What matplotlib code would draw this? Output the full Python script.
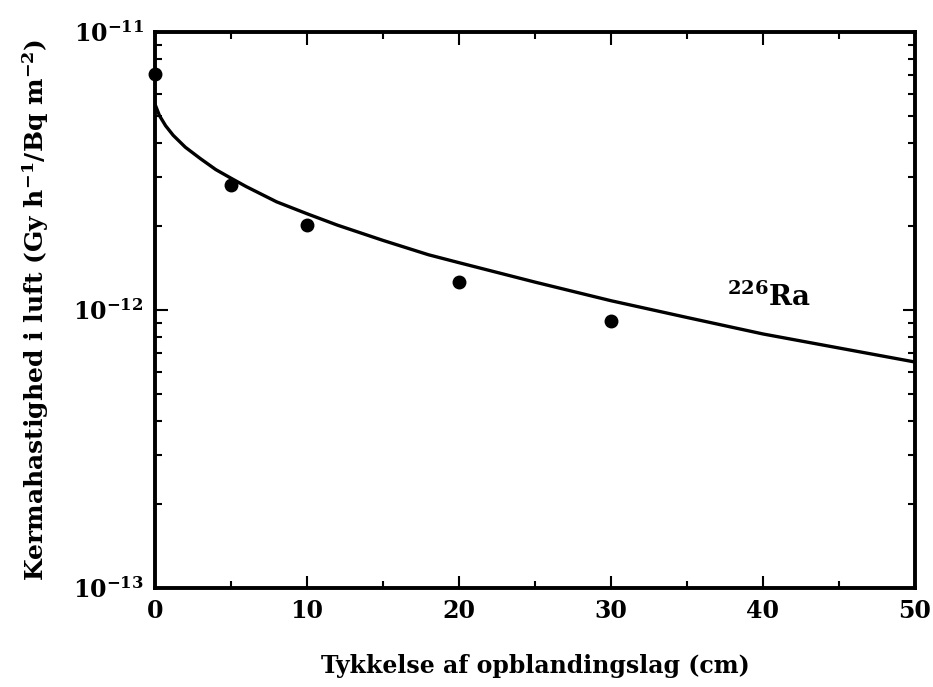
import numpy as np
import matplotlib
matplotlib.use("Agg")
import matplotlib.pyplot as plt
from matplotlib.ticker import FixedLocator, LogLocator, MultipleLocator, FuncFormatter, NullFormatter

# beregnet kurve
curve_x = [0, 0.3, 0.7, 1.2, 2, 3, 4, 5, 6, 8, 10, 12, 15, 18, 20, 25, 30, 35, 40, 45, 50]
curve_y = [5.5e-12, 5.0e-12, 4.6e-12, 4.25e-12, 3.85e-12, 3.5e-12, 3.2e-12, 2.98e-12, 2.78e-12,
           2.45e-12, 2.22e-12, 2.02e-12, 1.78e-12, 1.58e-12, 1.48e-12, 1.26e-12, 1.08e-12,
           9.4e-13, 8.2e-13, 7.3e-13, 6.5e-13]

# målte punkter
meas_x = [0, 5, 10, 20, 30]
meas_y = [7.05e-12, 2.82e-12, 2.02e-12, 1.26e-12, 9.1e-13]

y_major = [1e-13, 1e-12, 1e-11]

plt.rcParams['font.family'] = ['DejaVu Serif']
plt.rcParams['font.weight'] = 'bold'
plt.rcParams['mathtext.fontset'] = 'dejavuserif'

fig = plt.figure(figsize=(9.33, 6.87), dpi=100)
ax = fig.add_axes([0.1661, 0.1441, 0.8146, 0.8093])

ax.plot(curve_x, curve_y, color='black', linewidth=2.4)
ax.plot(meas_x, meas_y, 'o', color='black', markersize=9, clip_on=False, zorder=5)

ax.set_yscale('log')
ax.set_xlim(0, 50)
ax.set_ylim(1e-13, 1e-11)

ax.xaxis.set_major_locator(MultipleLocator(10))
ax.xaxis.set_minor_locator(MultipleLocator(5))
ax.yaxis.set_major_locator(FixedLocator(y_major))
ax.yaxis.set_minor_locator(LogLocator(base=10, subs=np.arange(2, 10), numticks=20))
ax.yaxis.set_minor_formatter(NullFormatter())


def fmt_pow(v, pos):
    e = int(round(np.log10(v)))
    return r'$\mathbf{10^{%d}}$' % e


ax.yaxis.set_major_formatter(FuncFormatter(fmt_pow))

ax.tick_params(which='both', direction='in', top=True, right=True, width=1.5)
ax.tick_params(which='major', length=9, labelsize=17, pad=8)
ax.tick_params(which='minor', length=5)
for lab in ax.get_xticklabels():
    lab.set_fontweight('bold')

for sp in ax.spines.values():
    sp.set_linewidth(2.8)

ax.set_xlabel('Tykkelse af opblandingslag (cm)', fontsize=17, fontweight='bold', labelpad=22)
ax.set_ylabel(r'Kermahastighed i luft (Gy h$^{\mathbf{-1}}$/Bq m$^{\mathbf{-2}}$)',
              fontsize=18, fontweight='bold', labelpad=16)

ax.text(37.6, 1.03e-12, r'$^{\mathbf{226}}$Ra', fontsize=20, fontweight='bold')

fig.savefig('out.png', dpi=100)
